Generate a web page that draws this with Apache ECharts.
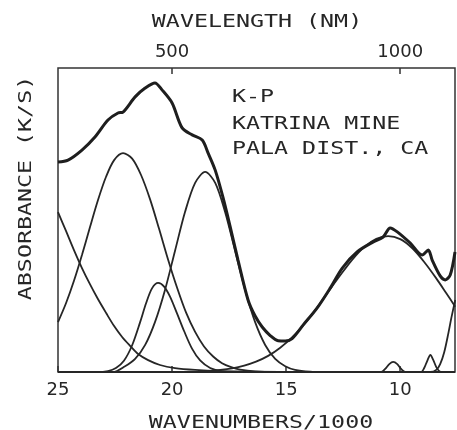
<!DOCTYPE html>
<html><head><meta charset="utf-8">
<script src="https://cdn.jsdelivr.net/npm/echarts@6/dist/echarts.min.js"></script>
<style>html,body{margin:0;padding:0;background:#fff}#c{width:457px;height:430px}</style>
</head><body><div id="c"></div>
<script>
// ---- data (wavenumber/1000, relative absorbance 0-100) ----
const bottomTickValues = [25, 20, 15, 10];
const topTickValues = [20, 10];          // wavenumber positions of wavelength ticks
const topTickLabels = ['500', '1000'];   // wavelength (nm)

const envelopeX = [25.00, 24.56, 23.95, 23.38, 22.81, 22.37, 22.15, 21.62, 21.18, 20.75, 20.44, 20.00, 19.56, 19.12, 18.68, 18.42, 18.11, 17.76, 17.46, 17.11, 16.67, 16.36, 16.05, 15.70, 15.35, 15.04, 14.74, 14.25, 13.64, 13.07, 12.54, 11.89, 11.18, 10.75, 10.44, 10.13, 9.56, 9.04, 8.77, 8.60, 8.25, 8.03, 7.81, 7.60];
const envelopeY = [69.1, 69.7, 73.0, 77.3, 82.9, 85.2, 85.5, 90.5, 93.4, 95.1, 92.8, 88.5, 80.3, 78.0, 76.3, 72.0, 66.4, 57.2, 48.0, 36.8, 23.7, 18.4, 14.8, 12.0, 10.3, 10.2, 11.0, 15.5, 21.1, 27.6, 34.2, 39.5, 42.8, 44.4, 47.4, 46.1, 42.4, 38.5, 40.1, 36.8, 31.6, 30.3, 31.9, 39.5];

const bandAX = [25.00, 24.65, 24.30, 23.95, 23.60, 23.25, 22.89, 22.54, 22.19, 21.84, 21.49, 21.05, 20.53, 19.87, 18.99, 17.89, 16.58, 14.0, 7.6];
const bandAY = [52.6, 46.4, 40.1, 34.2, 28.9, 24.0, 19.4, 15.1, 11.5, 8.6, 5.9, 3.9, 2.3, 1.3, 0.7, 0.3, 0.1, 0, 0];

const bandBX = [25.00, 24.65, 24.30, 23.95, 23.60, 23.25, 22.89, 22.54, 22.15, 21.75, 21.36, 20.96, 20.57, 20.18, 19.78, 19.39, 18.99, 18.60, 18.20, 17.81, 17.41, 17.02, 16.36, 15.48, 7.6];
const bandBY = [16.4, 22.6, 30.0, 38.5, 47.6, 56.5, 64.3, 69.7, 72.0, 70.2, 64.8, 56.7, 47.1, 37.1, 27.7, 19.6, 13.2, 8.4, 5.1, 2.9, 1.6, 0.8, 0.2, 0, 0];

const bandCX = [25, 23.3, 22.81, 22.46, 22.11, 21.75, 21.40, 21.14, 20.88, 20.61, 20.35, 20.09, 19.78, 19.47, 19.12, 18.77, 18.33, 17.81, 17.24, 7.6];
const bandCY = [0, 0, 0.3, 1.3, 3.7, 8.8, 16.4, 22.6, 27.5, 29.3, 28.1, 24.8, 19.2, 13.4, 7.6, 3.8, 1.3, 0.2, 0, 0];

const bandDX = [25, 22.6, 22.06, 21.62, 21.18, 20.75, 20.31, 19.87, 19.43, 18.99, 18.55, 18.11, 17.68, 17.24, 16.80, 16.36, 15.92, 15.48, 15.04, 14.61, 13.95, 13.3, 7.6];
const bandDY = [0, 0, 1.9, 4.3, 8.9, 16.4, 27.0, 39.9, 52.7, 62.2, 65.8, 62.2, 52.7, 39.9, 27.0, 16.4, 8.9, 4.3, 1.9, 0.7, 0.1, 0, 0];

const bandEX = [25, 19.0, 17.89, 17.37, 16.84, 16.32, 15.79, 15.26, 14.74, 14.21, 13.68, 13.16, 12.63, 12.11, 11.58, 11.05, 10.53, 10.00, 9.47, 8.95, 8.42, 7.98, 7.59];
const bandEY = [0, 0, 0.7, 1.2, 2.1, 3.4, 5.3, 8.0, 11.4, 15.7, 20.8, 26.3, 31.8, 36.9, 41.1, 43.8, 44.7, 43.7, 40.7, 36.2, 30.8, 25.9, 21.5];

const bandFX = [25, 11.3, 10.83, 10.66, 10.48, 10.31, 10.13, 9.96, 9.78, 9.3, 7.6];
const bandFY = [0, 0, 0, 1.0, 2.6, 3.3, 2.6, 1.0, 0, 0, 0];

const bandGX = [25, 9.5, 9.08, 8.95, 8.82, 8.68, 8.55, 8.42, 8.29, 8.16, 7.6];
const bandGY = [0, 0, 0, 1.3, 3.6, 5.6, 3.9, 1.6, 0.3, 0, 0];

const bandHX = [25, 9.2, 8.68, 8.42, 8.25, 8.07, 7.89, 7.76, 7.59];
const bandHY = [0, 0, 0, 0.7, 2.6, 6.6, 12.8, 17.8, 23.7];

const titleTop = 'WAVELENGTH (NM)';
const titleBottom = 'WAVENUMBERS/1000';
const titleLeft = 'ABSORBANCE (K/S)';
const noteLines = ['K-P', 'KATRINA MINE', 'PALA DIST., CA'];

// ---- chart ----
const zip = (xs, ys) => xs.map((x, i) => [x, ys[i]]);
const INK = '#262626';
const MONO = '"DejaVu Sans Mono", monospace';
const SX = 1.37;

function band(xs, ys) {
  return { type: 'line', data: zip(xs, ys), smooth: 0.3, symbol: 'none',
    lineStyle: { color: INK, width: 1.8 }, z: 2, silent: true };
}

const chart = echarts.init(document.getElementById('c'), null, { renderer: 'canvas' });
const axisCommon = {
  type: 'value', inverse: true, min: 7.6, max: 25,
  axisLine: { show: false }, splitLine: { show: false }
};

function txt(text, x, y, opts) {
  return Object.assign({
    type: 'text', x: x, y: y, scaleX: SX, silent: true,
    style: { text: text, x: 0, y: 0, font: '17px ' + MONO, fill: INK,
      align: 'center', textAlign: 'center', verticalAlign: 'middle', textVerticalAlign: 'middle' }
  }, opts || {});
}

const graphics = [
  txt(titleTop, 257, 23),
  txt(titleBottom, 261, 424),
  txt(titleLeft, 27, 188, { rotation: Math.PI / 2 })
];
const noteY = [98, 125, 150];
noteLines.forEach((t, i) => {
  const g = txt(t, 232, noteY[i]);
  g.style.align = 'left'; g.style.textAlign = 'left';
  graphics.push(g);
});

chart.setOption({
  animation: false,
  backgroundColor: '#fff',
  grid: { left: 58, right: 2, top: 68, bottom: 58, show: true, borderColor: '#333', borderWidth: 1.5 },
  xAxis: [
    Object.assign({}, axisCommon, {
      position: 'bottom',
      axisTick: { show: true, inside: true, length: 6, customValues: bottomTickValues, lineStyle: { color: '#333', width: 1.5 } },
      axisLabel: { customValues: bottomTickValues, margin: 9, fontFamily: 'DejaVu Sans', fontSize: 18, lineHeight: 18, color: INK,
        formatter: v => String(v) }
    }),
    Object.assign({}, axisCommon, {
      position: 'top',
      axisTick: { show: true, inside: true, length: 6, customValues: topTickValues, lineStyle: { color: '#333', width: 1.5 } },
      axisLabel: { customValues: topTickValues, margin: 7, fontFamily: 'DejaVu Sans', fontSize: 18, lineHeight: 18, color: INK,
        formatter: v => topTickLabels[topTickValues.indexOf(v)] || '' }
    })
  ],
  yAxis: { type: 'value', min: 0, max: 100, show: false },
  series: [
    band(bandAX, bandAY), band(bandBX, bandBY), band(bandCX, bandCY), band(bandDX, bandDY),
    band(bandEX, bandEY), band(bandFX, bandFY), band(bandGX, bandGY), band(bandHX, bandHY),
    { type: 'line', data: zip(envelopeX, envelopeY), smooth: 0.3, symbol: 'none',
      lineStyle: { color: '#1e1e1e', width: 3 }, z: 3, silent: true }
  ],
  graphic: graphics
});
</script></body></html>
